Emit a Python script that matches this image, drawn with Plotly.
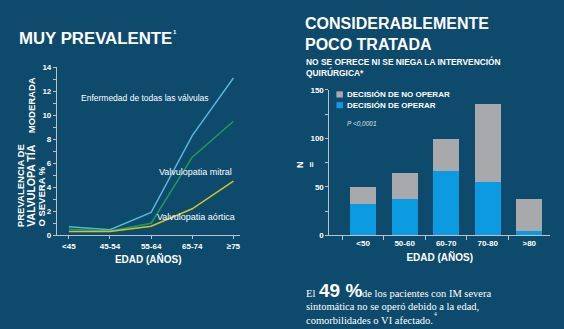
import plotly.graph_objects as go

W, H = 564, 329
BG = "#0d4a6b"

# ---- data: left chart (prevalence %) ----
age_groups_left = ["<45", "45-54", "55-64", "65-74", "≥75"]
all_valves = [0.7, 0.45, 1.9, 8.3, 13.1]
mitral = [0.5, 0.35, 1.0, 6.5, 9.5]
aortic = [0.3, 0.3, 0.75, 2.2, 4.5]
left_series_names = ["Enfermedad de todas las válvulas", "Valvulopatia mitral", "Valvulopatia aórtica"]

# ---- data: right chart (N) ----
age_groups_right = ["<50", "50-60", "60-70", "70-80", ">80"]
operate = [32, 38, 66, 55, 5]
not_operate = [18, 26, 33, 80, 33]
right_series_names = ["DECISIÓN DE NO OPERAR", "DECISIÓN DE OPERAR"]


def px(x):
    return x / W


def py(y):
    return 1 - y / H


fig = go.Figure()

line_colors = ["#5ab4dc", "#1f9c5c", "#cfc42a"]
for name, vals, col in zip(left_series_names, [all_valves, mitral, aortic], line_colors):
    fig.add_trace(go.Scatter(x=age_groups_left, y=vals, mode="lines", name=name,
                             line=dict(color=col, width=1.5), xaxis="x", yaxis="y",
                             showlegend=False))

fig.add_trace(go.Bar(x=age_groups_right, y=operate, name=right_series_names[1],
                     marker=dict(color="#0c9be0", line=dict(width=0)), width=0.625,
                     xaxis="x2", yaxis="y2", showlegend=False))
fig.add_trace(go.Bar(x=age_groups_right, y=not_operate, name=right_series_names[0],
                     marker=dict(color="#a7a9ac", line=dict(width=0)), width=0.625,
                     xaxis="x2", yaxis="y2", showlegend=False))

tickfont = dict(family="Liberation Sans", size=8, color="white", weight="bold")
axcol = "#b9c3cc"

fig.update_layout(
    width=W, height=H, margin=dict(l=0, r=0, t=0, b=0),
    paper_bgcolor=BG, plot_bgcolor=BG, barmode="stack",
    font=dict(family="Liberation Sans", color="white"),
    xaxis=dict(domain=[px(57), px(240)], type="category", range=[-0.29, 4.15],
               showgrid=False, zeroline=False, showline=True, linecolor=axcol, linewidth=1,
               ticks="outside", ticklen=3, tickcolor=axcol, tickfont=tickfont,
               title=dict(text="EDAD (AÑOS)", font=dict(size=10, weight="bold", color="white"), standoff=6)),
    yaxis=dict(domain=[py(237.7), py(65)], range=[0, 14], dtick=2,
               showgrid=False, zeroline=False, showline=True, linecolor=axcol, linewidth=1,
               ticks="outside", ticklen=3, tickcolor=axcol, tickfont=tickfont,
               minor=dict(dtick=1, ticks="outside", ticklen=3, tickcolor=axcol)),
    xaxis2=dict(domain=[px(330), px(551)], type="category", range=[-0.81, 4.5],
                showgrid=False, zeroline=False, showline=True, linecolor=axcol, linewidth=1,
                ticks="outside", ticklen=4, tickcolor=axcol, tickson="boundaries",
                tickfont=tickfont, anchor="y2",
                title=dict(text="EDAD (AÑOS)", font=dict(size=10, weight="bold", color="white"), standoff=6)),
    yaxis2=dict(domain=[py(238), py(88.3)], range=[0, 150], dtick=50, anchor="x2",
                showgrid=False, zeroline=False, showline=True, linecolor=axcol, linewidth=1,
                ticks="outside", ticklen=3, tickcolor=axcol, tickfont=tickfont,
                minor=dict(dtick=25, ticks="outside", ticklen=3, tickcolor=axcol)),
)

ann = []


def A(x, y, text, size=8, xanchor="left", yanchor="middle", family="Liberation Sans",
      weight="normal", style="normal", color="white", **kw):
    d = dict(x=px(x), y=py(y), xref="paper", yref="paper", text=text, showarrow=False,
             xanchor=xanchor, yanchor=yanchor,
             font=dict(size=size, color=color, family=family, weight=weight, style=style))
    d.update(kw)
    ann.append(d)


# titles
A(17, 35, "MUY PREVALENTE", size=16.8, weight="bold")
A(172, 29, "1", size=6, weight="bold", borderpad=0)
A(304, 31, "CONSIDERABLEMENTE<br>POCO TRATADA", size=16, weight="bold", align="left")
A(305, 65, "NO SE OFRECE NI SE NIEGA LA INTERVENCIÓN<br>QUIRÚRGICA*", size=8.4, weight="bold",
  align="left")

# left y title (rotated, bottom aligned)
A(20, 231, "PREVALENCIA DE", size=9.5, weight="bold", xanchor="center", yanchor="bottom",
  textangle=-90)
A(31, 231, "VALVULOPA TÍA", size=10.5, weight="bold", xanchor="center", yanchor="bottom",
  textangle=-90)
A(31, 135, "MODERADA", size=9.5, weight="bold", xanchor="center", yanchor="bottom",
  textangle=-90)
A(42, 231, "O SEVERA %", size=9.5, weight="bold", xanchor="center", yanchor="bottom",
  textangle=-90)

# line labels
A(79, 97, left_series_names[0], size=8.5)
A(157, 173, left_series_names[1], size=9)
A(155, 219, left_series_names[2], size=9)

# right y title
A(307, 165, "N<br>=", size=9, weight="bold", xanchor="center", textangle=-90)

# legend (manual)
shapes = []
for i, (nm, col) in enumerate(zip(right_series_names, ["#a7a9ac", "#0c9be0"])):
    yc = 93 + i * 11
    shapes.append(dict(type="rect", xref="paper", yref="paper", x0=px(337), x1=px(343.5),
                       y0=py(yc + 3.2), y1=py(yc - 3.2), fillcolor=col, line=dict(width=0)))
    A(345.5, yc, nm, size=8, weight="bold")

A(346, 123, "P &lt;0,0001", size=6.5, style="italic", color="#d9e0e6")

# bottom text
A(305, 298, "El", size=10.5, family="Liberation Serif")
A(318, 295, "49 %", size=19, weight="bold")
A(361, 298, "de los pacientes con IM severa", size=10.5, family="Liberation Serif")
A(305, 311.5, "sintomática no se operó debido a la edad,", size=10.5, family="Liberation Serif")
A(305, 325, "comorbilidades o VI afectado.", size=10.5, family="Liberation Serif")
A(434, 319, "4", size=5.5, family="Liberation Serif", borderpad=0)

fig.update_layout(annotations=ann, shapes=shapes)
fig.write_html("out.html")
